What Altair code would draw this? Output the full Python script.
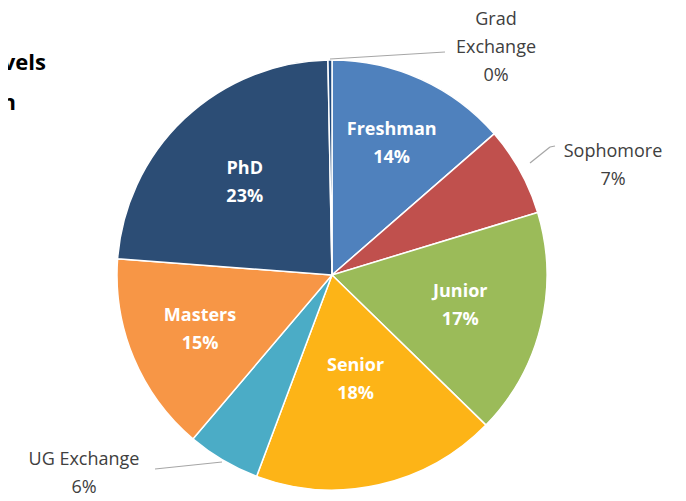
import altair as alt
import pandas as pd

# ---- data ----
categories = ["Freshman", "Sophomore", "Junior", "Senior", "UG Exchange",
              "Masters", "PhD", "Grad Exchange"]
values = [13.6, 6.7, 17.0, 18.4, 5.5, 15.0, 23.5, 0.3]
pct_labels = ["14%", "7%", "17%", "18%", "6%", "15%", "23%", "0%"]
inside = ["Freshman", "Junior", "Senior", "Masters", "PhD"]

# ---- styling ----
colors = ["#4F81BD", "#C0504D", "#9BBB59", "#FDB417", "#4BACC6",
          "#F79646", "#2C4D75", "#1F497D"]
CX, CY, R = 324, 267, 215
label_radius = {"Freshman": 144, "Junior": 132, "Senior": 108,
                "Masters": 143, "PhD": 127}
FONT = "Open Sans"
LH = 28

df = pd.DataFrame({
    "cat": categories,
    "value": values,
    "idx": list(range(len(categories))),
    "pct": pct_labels,
})

base = alt.Chart(df).encode(
    theta=alt.Theta("value:Q", stack=True),
    order=alt.Order("idx:Q"),
)

arcs = base.mark_arc(outerRadius=R, stroke="white", strokeWidth=1.5).encode(
    x=alt.value(CX), y=alt.value(CY),
    color=alt.Color("cat:N", scale=alt.Scale(domain=categories, range=colors),
                    legend=None),
)

layers = [arcs]
for c in inside:
    layers.append(
        base.transform_calculate(
            lbl=f"datum.cat == '{c}' ? datum.cat + '\\n' + datum.pct : ''"
        ).mark_text(radius=label_radius[c], font=FONT, fontSize=18,
                    fontWeight="bold", color="white", lineBreak="\n",
                    lineHeight=LH, align="center", baseline="middle",
                    dy=-LH / 2).encode(
            x=alt.value(CX), y=alt.value(CY), text="lbl:N")
    )

def note(txt, x, y, align="center", size=18, weight="normal", color="#404040"):
    n = txt.count("\n")
    return alt.Chart(df.head(1)).mark_text(
        font=FONT, fontSize=size, fontWeight=weight, color=color,
        lineBreak="\n", lineHeight=LH, align=align, baseline="middle",
        dy=-LH * n / 2,
    ).encode(x=alt.value(x), y=alt.value(y), text=alt.value(txt))

def seg(x1, y1, x2, y2):
    return alt.Chart(df.head(1)).mark_rule(color="#A6A6A6", strokeWidth=1.2).encode(
        x=alt.value(x1), y=alt.value(y1), x2=alt.value(x2), y2=alt.value(y2))

layers += [
    note("Grad\nExchange\n0%", 488, 40),
    note("Sophomore\n7%", 605, 158),
    note("UG Exchange\n6%", 76, 466),
    seg(322, 51, 437, 44),
    seg(522, 155, 542, 139), seg(542, 139, 547, 138),
    seg(147, 461, 214, 454),
    note("Student Levels", 38, 55, align="right", size=22, weight="bold",
         color="#000000"),
    note("Population", 8, 95, align="right", size=22, weight="bold",
         color="#000000"),
]

chart = alt.layer(*layers).properties(
    width=670, height=493,
    autosize=alt.AutoSizeParams(type="none"),
    padding=0,
).configure_view(stroke=None)

chart.save("out.html", embed_options={"renderer": "svg", "actions": False})
